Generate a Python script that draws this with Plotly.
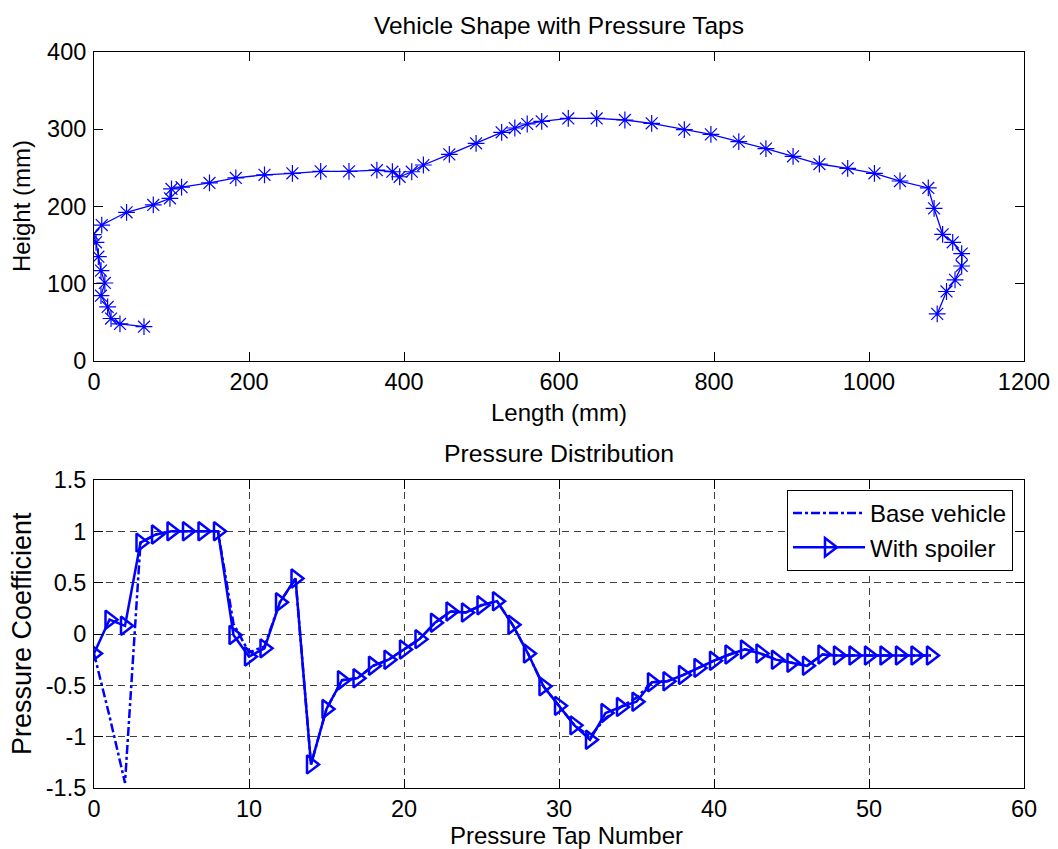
import plotly.graph_objects as go

# ---------------- data ----------------
# Vehicle shape (pressure tap locations)
shape_length_mm = [64.5, 33.5, 22, 17.6, 9, 14, 9, 5.6, 2.6, -1, 10, 42, 76.5, 98, 100, 113,
                   149, 183, 220, 256, 292.5, 329, 365, 385, 394.4, 410, 425, 458.5, 493, 526,
                   543, 559, 577.7, 612, 648.6, 685, 719.6, 761.7, 796, 832, 867, 902, 936,
                   972.5, 1007, 1040, 1076.5, 1084, 1095, 1108, 1119.6, 1119.6, 1111, 1100, 1088]
shape_height_mm = [44.4, 48, 55, 70, 84.5, 101, 117, 135, 153.6, 163.5, 176, 192.5, 202, 210.6,
                   222.7, 225, 230.5, 237, 241, 243, 245.5, 245.5, 247, 245, 238.5, 245, 253.7,
                   267.5, 281.8, 296, 301.6, 306.8, 310.3, 314, 314, 312, 307.7, 299.5, 293.4,
                   284, 275, 265, 255, 249.4, 243, 233, 224, 197.6, 164, 153.6, 139, 123, 105,
                   90, 61]

# Pressure distribution
tap_number = list(range(55))
cp_with_spoiler = [-0.19, 0.14, 0.08, 0.89, 0.97, 1.0, 1.0, 1.0, 1.0, -0.01,
                   -0.22, -0.14, 0.31, 0.54, -1.27, -0.73, -0.45, -0.43, -0.31, -0.25,
                   -0.15, -0.05, 0.11, 0.22, 0.21, 0.28, 0.32, 0.09, -0.19, -0.51,
                   -0.70, -0.89, -1.03, -0.77, -0.71, -0.66, -0.47, -0.46, -0.40, -0.33,
                   -0.26, -0.20, -0.15, -0.19, -0.25, -0.28, -0.31, -0.20, -0.21, -0.21,
                   -0.21, -0.21, -0.21, -0.21, -0.21]
cp_base = [-0.19, -0.80, -1.45, 0.89, 0.97, 1.0, 1.0, 1.0, 1.0, 0.10,
           -0.18, -0.12, 0.31, 0.54, -1.27, -0.73, -0.45, -0.43, -0.31, -0.25,
           -0.15, -0.05, 0.11, 0.22, 0.21, 0.28, 0.32, 0.09, -0.19, -0.51,
           -0.70, -0.89, -1.00, -0.82, -0.71, -0.62, -0.47, -0.46, -0.40, -0.33,
           -0.26, -0.20, -0.15, -0.19, -0.25, -0.28, -0.31, -0.20, -0.21, -0.21,
           -0.21, -0.21, -0.21, -0.21, -0.21]

top_xticks = [0, 200, 400, 600, 800, 1000, 1200]
top_yticks = [0, 100, 200, 300, 400]
bot_xticks = [0, 10, 20, 30, 40, 50, 60]
bot_yticks = [-1.5, -1, -0.5, 0, 0.5, 1, 1.5]
bot_yticktext = ["-1.5", "-1", "-0.5", "0", "0.5", "1", "1.5"]

# ---------------- figure ----------------
W, H = 1058, 849
FONT = "Liberation Sans, Arial, sans-serif"
FS_TICK = 23.5
BLUE = "rgb(0,0,255)"


def px_x(p):
    return p / W


def px_y(p):
    return 1 - p / H


fig = go.Figure()

fig.add_trace(go.Scatter(
    x=shape_length_mm, y=shape_height_mm, mode="lines+markers",
    line=dict(color=BLUE, width=1.3),
    marker=dict(symbol="asterisk-open", size=14, color=BLUE, line=dict(color=BLUE, width=1.2)),
    xaxis="x", yaxis="y", showlegend=False))

fig.add_trace(go.Scatter(
    x=tap_number, y=cp_base, mode="lines", name="Base vehicle",
    line=dict(color=BLUE, width=2.5, dash="dashdot"),
    xaxis="x2", yaxis="y2"))

fig.add_trace(go.Scatter(
    x=tap_number, y=cp_with_spoiler, mode="lines+markers", name="With spoiler",
    line=dict(color=BLUE, width=2.5),
    marker=dict(symbol="triangle-right-open", size=16, color=BLUE, line=dict(color=BLUE, width=2.5)),
    xaxis="x2", yaxis="y2"))

axis_common = dict(
    showline=True, linecolor="black", linewidth=1, mirror="ticks",
    ticks="inside", ticklen=9, tickcolor="black", tickwidth=1,
    zeroline=False, tickfont=dict(family=FONT, size=FS_TICK, color="black"),
)

xdom = [px_x(94), px_x(1024)]
fig.update_layout(
    width=W, height=H,
    margin=dict(l=0, r=0, t=0, b=0, autoexpand=False),
    paper_bgcolor="white", plot_bgcolor="white",
    font=dict(family=FONT, size=FS_TICK, color="black"),
    xaxis=dict(domain=xdom, range=[0, 1200], tickvals=top_xticks, showgrid=False,
               anchor="y", automargin=False, **axis_common),
    yaxis=dict(domain=[px_y(361), px_y(52)], range=[0, 400], tickvals=top_yticks,
               showgrid=False, anchor="x", ticklabelstandoff=2, automargin=False,
               **axis_common),
    xaxis2=dict(domain=xdom, range=[0, 60], tickvals=bot_xticks, showgrid=True,
                gridcolor="#404040", griddash="7px,5px", gridwidth=1,
                anchor="y2", automargin=False, **axis_common),
    yaxis2=dict(domain=[px_y(788), px_y(480)], range=[-1.5, 1.5], tickvals=bot_yticks,
                ticktext=bot_yticktext, showgrid=True, gridcolor="#404040",
                griddash="7px,5px", gridwidth=1, anchor="x2", ticklabelstandoff=2,
                automargin=False, **axis_common),
    legend=dict(x=px_x(787), y=px_y(490), xanchor="left", yanchor="top",
                bgcolor="white", bordercolor="black", borderwidth=1,
                font=dict(family=FONT, size=24, color="black"),
                itemwidth=72, tracegroupgap=0),
)

annots = [
    ("Vehicle Shape with Pressure Taps", 559, 26, 0, 24.5),
    ("Length (mm)", 559, 412, 0, 24),
    ("Height (mm)", 22, 206, -90, 24),
    ("Pressure Distribution", 559, 453, 0, 24.8),
    ("Pressure Tap Number", 566, 835, 0, 24),
    ("Pressure Coefficient", 22, 634, -90, 27),
]
for text, x, y, ang, fs in annots:
    fig.add_annotation(text=text, x=px_x(x), y=px_y(y), xref="paper", yref="paper",
                       xanchor="center", yanchor="middle", showarrow=False,
                       textangle=ang, font=dict(family=FONT, size=fs, color="black"))

fig.write_html("out.html")
